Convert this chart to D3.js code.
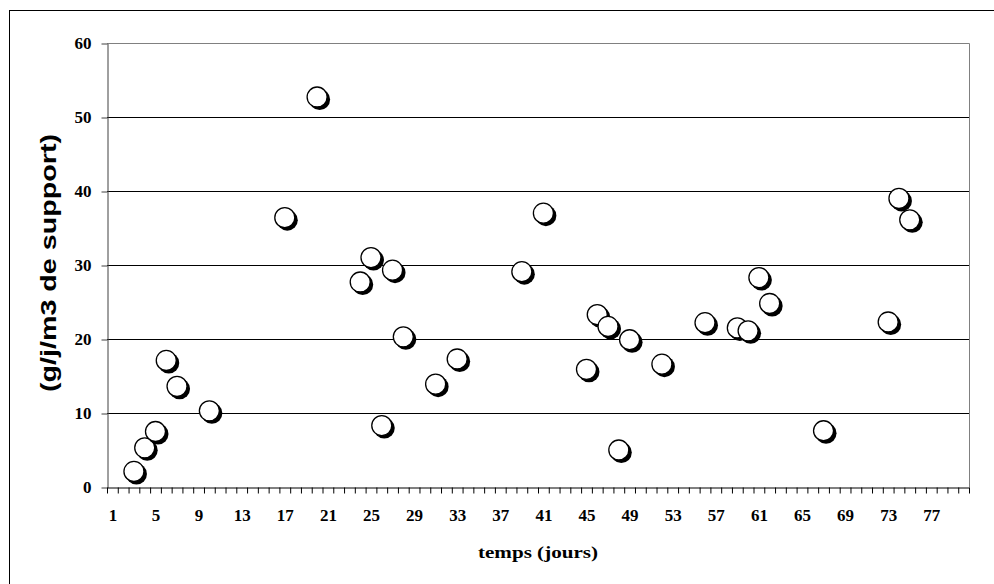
<!DOCTYPE html>
<html>
<head>
<meta charset="utf-8">
<script src="https://d3js.org/d3.v7.min.js"></script>
<style>
  body { margin: 0; background: #fff; }
</style>
</head>
<body>
<div id="chart"></div>
<script>

// data
var days   = [3, 4, 5, 6, 7, 10, 17, 20, 24, 25, 26, 27, 28, 31, 33, 39, 41, 45, 46, 47, 48, 49, 52, 56, 59, 60, 61, 62, 67, 73, 74, 75];
var values = [2.1, 5.3, 7.5, 17.1, 13.6, 10.3, 36.4, 52.7, 27.7, 31.0, 8.3, 29.3, 20.3, 13.9, 17.3, 29.1, 37.0, 15.9, 23.3, 21.7, 5.0, 19.9, 16.6, 22.2, 21.5, 21.1, 28.3, 24.8, 7.6, 22.3, 39.0, 36.1];
var xTickLabels = [1, 5, 9, 13, 17, 21, 25, 29, 33, 37, 41, 45, 49, 53, 57, 61, 65, 69, 73, 77];
var yTickValues = [0, 10, 20, 30, 40, 50, 60];
var nDays = 80;

var W = 994, H = 584;
var plot = {left: 107, right: 969, top: 43, bottom: 487};
var serif = "'Liberation Serif', 'Times New Roman', serif";

var svg = d3.select("#chart").append("svg")
    .attr("width", W)
    .attr("height", H);

// outer frame (runs off the picture on the right and bottom)
svg.append("rect")
    .attr("x", 9.5).attr("y", 10.5)
    .attr("width", 1000).attr("height", 600)
    .attr("fill", "none").attr("stroke", "#000");

var x = d3.scaleLinear().domain([0.5, nDays + 0.5]).range([plot.left, plot.right]);
var y = d3.scaleLinear().domain([0, 60]).range([plot.bottom, plot.top]);

// horizontal grid lines
svg.append("g").selectAll("line")
    .data(yTickValues.filter(function(d) { return d > 0 && d < 60; }))
  .enter().append("line")
    .attr("x1", plot.left).attr("x2", plot.right)
    .attr("y1", function(d) { return Math.round(y(d)) + 0.5; })
    .attr("y2", function(d) { return Math.round(y(d)) + 0.5; })
    .attr("stroke", "#000");

// plot area border top and right (grey)
svg.append("path")
    .attr("d", "M" + plot.left + "," + (plot.top + 0.5) + "H" + (plot.right + 0.5) + "V" + plot.bottom)
    .attr("fill", "none").attr("stroke", "#808080");

// y axis
var yAxis = svg.append("g")
    .attr("transform", "translate(" + (plot.left + 0.5) + ",0.5)")
    .call(d3.axisLeft(y).tickValues(yTickValues).tickSize(6).tickSizeOuter(0).tickPadding(10));
yAxis.select(".domain").attr("stroke", "#404040");
yAxis.selectAll(".tick line").attr("stroke", "#404040");
yAxis.selectAll("text")
    .style("font-family", serif)
    .style("font-weight", "bold")
    .style("font-size", "17px")
    .attr("fill", "#000");

// x axis: ticks between categories
var bounds = d3.range(0, nDays + 1).map(function(i) { return i + 0.5; });
var xAxis = svg.append("g")
    .attr("transform", "translate(0," + (plot.bottom + 0.5) + ")")
    .call(d3.axisBottom(x).tickValues(bounds).tickSize(6).tickSizeOuter(0).tickFormat(""));
xAxis.select(".domain").attr("stroke", "#000");
xAxis.selectAll(".tick line").attr("stroke", "#000");

// x labels every 4 days
var xLab = svg.append("g")
    .attr("transform", "translate(0," + (plot.bottom + 0.5) + ")")
    .call(d3.axisBottom(x).tickValues(xTickLabels).tickSize(0).tickPadding(21));
xLab.select(".domain").remove();
xLab.selectAll("text")
    .style("font-family", serif)
    .style("font-weight", "bold")
    .style("font-size", "17px")
    .attr("fill", "#000");

// axis titles
svg.append("text")
    .attr("x", (plot.left + plot.right) / 2)
    .attr("y", 558)
    .attr("text-anchor", "middle")
    .attr("textLength", 120)
    .attr("lengthAdjust", "spacingAndGlyphs")
    .style("font-family", serif)
    .style("font-weight", "bold")
    .style("font-size", "17px")
    .text("temps (jours)");

svg.append("text")
    .attr("transform", "translate(56," + ((plot.top + plot.bottom) / 2 - 2) + ") rotate(-90)")
    .attr("text-anchor", "middle")
    .attr("textLength", 258)
    .attr("lengthAdjust", "spacingAndGlyphs")
    .style("font-family", "'Liberation Sans', Arial, sans-serif")
    .style("font-weight", "bold")
    .style("font-size", "22px")
    .text("(g/j/m3 de support)");

// markers: white circle with a black drop shadow
var pts = days.map(function(d, i) { return {day: d, value: values[i]}; });
var marks = svg.append("g").selectAll("g")
    .data(pts)
  .enter().append("g")
    .attr("transform", function(d) { return "translate(" + x(d.day) + "," + y(d.value) + ")"; });
marks.append("circle")
    .attr("cx", 2.5).attr("cy", 2.5).attr("r", 10.5)
    .attr("fill", "#000");
marks.append("circle")
    .attr("r", 10)
    .attr("fill", "#fff")
    .attr("stroke", "#000")
    .attr("stroke-width", 1.3);

</script>
</body>
</html>
